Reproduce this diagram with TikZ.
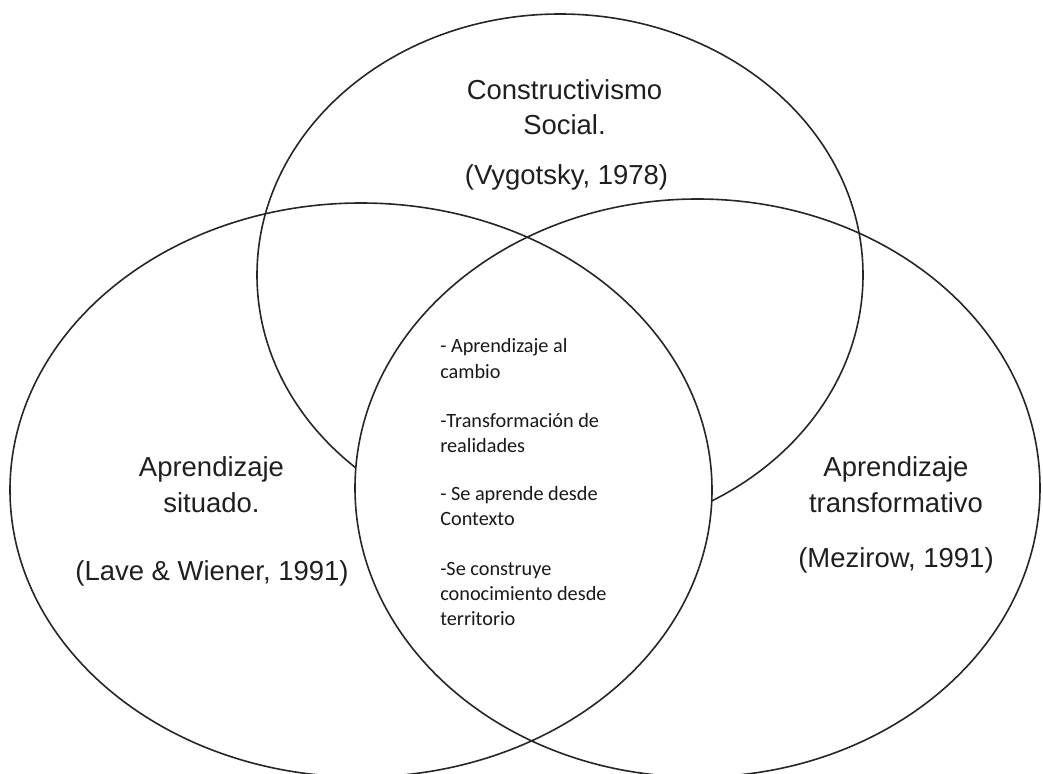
\documentclass[tikz,border=0pt]{standalone}
\usepackage{fontspec}
\setmainfont{Liberation Sans}
\newfontfamily\calib{Carlito}
\begin{document}
\begin{tikzpicture}[x=0.75pt,y=-0.75pt,
  ring/.style={draw=black!85,line width=1.2pt},
  title/.style={anchor=base,inner sep=0pt,font=\fontsize{20.6}{24}\selectfont,text=black!88},
  item/.style={anchor=base west,inner sep=0pt,font=\calib\fontsize{15.2}{18}\selectfont,text=black!90}]
\useasboundingbox (0,0) rectangle (1043,774);
\clip (0,0) rectangle (1043,774);
% top ellipse (behind)
\draw[ring] (560,275) ellipse [x radius=303, y radius=261];
% white lens covering the top ellipse's lower arc
\begin{scope}
  \clip (361,490) ellipse [x radius=351, y radius=287];
  \fill[white] (697.5,488) ellipse [x radius=342.5, y radius=289];
\end{scope}
\draw[ring] (361,490) ellipse [x radius=351, y radius=287];
\draw[ring] (697.5,488) ellipse [x radius=342.5, y radius=289];
% top labels
\node[title] (t1) at (564.5,99) {Constructivismo};
\node[title] (t2) at (564.5,135) {Social.};
\node[title] (t3) at (566.5,184) {(Vygotsky, 1978)};
% left labels
\node[title] (l1) at (211.5,476) {Aprendizaje};
\node[title] (l2) at (211.5,512) {situado.};
\node[title] (l3) at (212,580) {(Lave \& Wiener, 1991)};
% right labels
\node[title] (r1) at (896,476) {Aprendizaje};
\node[title] (r2) at (896,512) {transformativo};
\node[title] (r3) at (896,567) {(Mezirow, 1991)};
% centre list
\node[item] (c1) at (440,352) {- Aprendizaje al};
\node[item] (c2) at (440,378) {cambio};
\node[item] (c3) at (440,427) {-Transformación de};
\node[item] (c4) at (440,452) {realidades};
\node[item] (c5) at (440,500) {- Se aprende desde};
\node[item] (c6) at (440,525) {Contexto};
\node[item] (c7) at (440,575) {-Se construye};
\node[item] (c8) at (440,600) {conocimiento desde};
\node[item] (c9) at (440,625) {territorio};
\end{tikzpicture}
\end{document}
